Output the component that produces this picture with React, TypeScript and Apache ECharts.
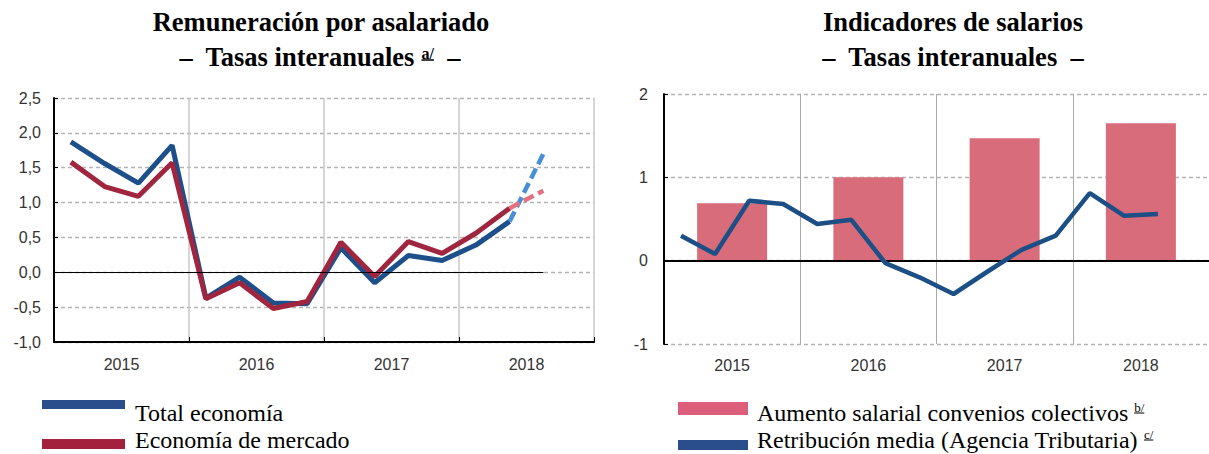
import React, { useEffect, useRef } from "react";
import * as echarts from "echarts";

const years = ["2015", "2016", "2017", "2018"];
const leftYTicks = [-1, -0.5, 0, 0.5, 1, 1.5, 2, 2.5];
const rightYTicks = [-1, 0, 1, 2];

// Remuneración por asalariado (quarterly, 2015Q1..2018Q2 solid; 2018Q2..Q3 projected)
const totalEconomia = [1.87, 1.56, 1.28, 1.82, -0.37, -0.07, -0.44, -0.45, 0.35, -0.15, 0.24, 0.17, 0.39, 0.73];
const totalEconomiaProy = [0.73, 1.7];
const economiaMercado = [1.58, 1.23, 1.09, 1.57, -0.38, -0.15, -0.52, -0.42, 0.43, -0.06, 0.44, 0.27, 0.56, 0.92];
const economiaMercadoProy = [0.92, 1.17];

// Indicadores de salarios
const convenios = [0.69, 1.0, 1.47, 1.65];
const retribucion = [0.3, 0.08, 0.72, 0.68, 0.44, 0.49, -0.03, -0.2, -0.4, -0.13, 0.13, 0.3, 0.81, 0.54, 0.56];

const SERIF = '"Liberation Serif", "Times New Roman", serif';
const SANS = '"Liberation Sans", Arial, sans-serif';

function measure(text: string, font: string): number {
  const c = document.createElement("canvas").getContext("2d");
  if (!c) return text.length * 10;
  c.font = font;
  return c.measureText(text).width;
}

function quarterPairs(vals: number[], start: number) {
  return vals.map((v, i) => [start + i + 0.5, v]);
}

function supText(main: string, sup: string, tail: string, x: number, y: number, align: "left" | "center", bold: boolean, mainSize: number, supSize: number, supDy: number, ulDy: number) {
  const w = bold ? "bold " : "";
  const mf = `${w}${mainSize}px ${SERIF}`;
  const sf = `${w}${supSize}px ${SERIF}`;
  const w1 = measure(main, mf);
  const w2 = measure(sup, sf);
  const w3 = tail ? measure(tail, mf) : 0;
  const x0 = align === "center" ? x - (w1 + w2 + w3) / 2 : x;
  const els: any[] = [
    { type: "text", x: x0, y, style: { text: main, font: mf, fill: "#000", textAlign: "left", textVerticalAlign: "middle" } },
    { type: "text", x: x0 + w1, y: y + supDy, style: { text: sup, font: sf, fill: "#000", textAlign: "left", textVerticalAlign: "middle" } },
    { type: "line", shape: { x1: x0 + w1, y1: y + ulDy, x2: x0 + w1 + w2, y2: y + ulDy }, style: { stroke: "#000", lineWidth: bold ? 1.5 : 1 } },
  ];
  if (tail) {
    els.push({ type: "text", x: x0 + w1 + w2, y, style: { text: tail, font: mf, fill: "#000", textAlign: "left", textVerticalAlign: "middle" } });
  }
  return els;
}

export default function App() {
  const ref = useRef<HTMLDivElement>(null);
  useEffect(() => {
    if (!ref.current) return;
    const chart = echarts.init(ref.current, null, { renderer: "svg" });
    const fmt = (v: number) => v.toFixed(1).replace(".", ",");
    const TF = `bold 26.5px ${SERIF}`;

    const graphic: any[] = [
      { type: "text", x: 321, y: 22, style: { text: "Remuneración por asalariado", font: TF, fill: "#000", textAlign: "center", textVerticalAlign: "middle" } },
      ...supText("–  Tasas interanuales ", "a/", "  –", 320, 57, "center", true, 26.5, 16, -4, 3),
      { type: "text", x: 953, y: 22, style: { text: "Indicadores de salarios", font: TF, fill: "#000", textAlign: "center", textVerticalAlign: "middle" } },
      { type: "text", x: 953, y: 57, style: { text: "–  Tasas interanuales  –", font: TF, fill: "#000", textAlign: "center", textVerticalAlign: "middle" } },
      // left legend
      { type: "rect", shape: { x: 42, y: 400, width: 83, height: 9 }, style: { fill: "#2a4e8c" } },
      { type: "text", x: 135, y: 413, style: { text: "Total economía", font: `24px ${SERIF}`, fill: "#000", textAlign: "left", textVerticalAlign: "middle" } },
      { type: "rect", shape: { x: 42, y: 439, width: 83, height: 10 }, style: { fill: "#a3213d" } },
      { type: "text", x: 135, y: 440, style: { text: "Economía de mercado", font: `24px ${SERIF}`, fill: "#000", textAlign: "left", textVerticalAlign: "middle" } },
      // right legend
      { type: "rect", shape: { x: 678, y: 402, width: 70, height: 13 }, style: { fill: "#dd5e7b" } },
      ...supText("Aumento salarial convenios colectivos ", "b/", "", 757, 413, "left", false, 24, 13, -6, 0),
      { type: "rect", shape: { x: 678, y: 440, width: 70, height: 10 }, style: { fill: "#2a4e8c" } },
      ...supText("Retribución media (Agencia Tributaria) ", "c/", "", 757, 440, "left", false, 24, 13, -6, 0),
    ];

    const option: any = {
      animation: false,
      backgroundColor: "#fff",
      graphic,
      grid: [
        { left: 54, top: 98, width: 540, height: 244 },
        { left: 664, top: 94, width: 554, height: 250 },
      ],
      xAxis: [
        {
          gridIndex: 0, type: "value", min: 0, max: 16, interval: 4,
          axisLabel: { show: false },
          axisLine: { show: true, onZero: false, lineStyle: { color: "#000", width: 2 } },
          axisTick: { show: true, inside: true, length: 5, lineStyle: { color: "#000", width: 1 } },
          splitLine: { show: true, lineStyle: { color: "#c8c8c8", width: 1.5 } },
        },
        {
          gridIndex: 0, type: "category", data: years, position: "bottom",
          axisLine: { show: false, onZero: false }, axisTick: { show: false }, splitLine: { show: false },
          axisLabel: { fontSize: 16, color: "#333", margin: 14, fontFamily: SANS },
        },
        {
          gridIndex: 1, type: "value", min: 0, max: 16, interval: 4,
          axisLabel: { show: false },
          axisLine: { show: false, onZero: false },
          axisTick: { show: false },
          splitLine: { show: true, lineStyle: { color: "#aaaaaa", width: 1 } },
        },
        {
          gridIndex: 1, type: "category", data: years, position: "bottom",
          axisLine: { show: false, onZero: false }, axisTick: { show: false }, splitLine: { show: false },
          axisLabel: { fontSize: 16, color: "#333", margin: 13, fontFamily: SANS },
        },
      ],
      yAxis: [
        {
          gridIndex: 0, type: "value", min: leftYTicks[0], max: leftYTicks[leftYTicks.length - 1], interval: 0.5,
          axisLine: { show: true, onZero: false, lineStyle: { color: "#000", width: 2 } },
          axisTick: { show: true, inside: true, length: 4, lineStyle: { color: "#000" } },
          axisLabel: { formatter: fmt, fontSize: 16, color: "#333", margin: 13, fontFamily: SANS },
          splitLine: { show: true, lineStyle: { color: "#b4b4b4", width: 1.3, type: [4, 3] } },
        },
        {
          gridIndex: 1, type: "value", min: rightYTicks[0], max: rightYTicks[rightYTicks.length - 1], interval: 1,
          axisLine: { show: true, onZero: false, lineStyle: { color: "#000", width: 2 } },
          axisTick: { show: true, inside: true, length: 4, lineStyle: { color: "#000" } },
          axisLabel: { fontSize: 16, color: "#333", margin: 16, fontFamily: SANS },
          splitLine: { show: true, lineStyle: { color: "#b4b4b4", width: 1.3, type: [4, 3] } },
        },
      ],
      series: [
        {
          name: "Total economía", type: "line", xAxisIndex: 0, yAxisIndex: 0,
          data: quarterPairs(totalEconomia, 0), symbol: "none",
          lineStyle: { color: "#1d4f8b", width: 5 }, z: 3,
          markLine: {
            silent: true, symbol: "none", label: { show: false },
            lineStyle: { color: "#000", width: 1, type: "solid" },
            data: [[{ coord: [0, 0] }, { coord: [14.5, 0] }]],
          },
        },
        {
          name: "Total economía proy", type: "line", xAxisIndex: 0, yAxisIndex: 0,
          data: quarterPairs(totalEconomiaProy, 13), symbol: "none",
          lineStyle: { color: "#4a8fd6", width: 4.5, type: [11, 5] }, z: 3,
        },
        {
          name: "Economía de mercado", type: "line", xAxisIndex: 0, yAxisIndex: 0,
          data: quarterPairs(economiaMercado, 0), symbol: "none",
          lineStyle: { color: "#a0263f", width: 5 }, z: 4,
        },
        {
          name: "Economía de mercado proy", type: "line", xAxisIndex: 0, yAxisIndex: 0,
          data: quarterPairs(economiaMercadoProy, 13), symbol: "none",
          lineStyle: { color: "#e3707e", width: 4.5, type: [11, 5] }, z: 4,
        },
        {
          name: "Aumento salarial convenios colectivos", type: "bar", xAxisIndex: 3, yAxisIndex: 1,
          data: convenios, barWidth: 70, itemStyle: { color: "#d86c7b" }, z: 2,
          markLine: {
            silent: true, symbol: "none", label: { show: false },
            lineStyle: { color: "#000", width: 2, type: "solid" },
            data: [{ yAxis: 0 }],
          },
        },
        {
          name: "Retribución media (Agencia Tributaria)", type: "line", xAxisIndex: 2, yAxisIndex: 1,
          data: quarterPairs(retribucion, 0), symbol: "none",
          lineStyle: { color: "#1b4f85", width: 4.5 }, z: 5,
        },
      ],
    };
    chart.setOption(option);
    return () => chart.dispose();
  }, []);
  return <div ref={ref} style={{ position: "fixed", left: 0, top: 0, width: 1209, height: 454 }} />;
}
